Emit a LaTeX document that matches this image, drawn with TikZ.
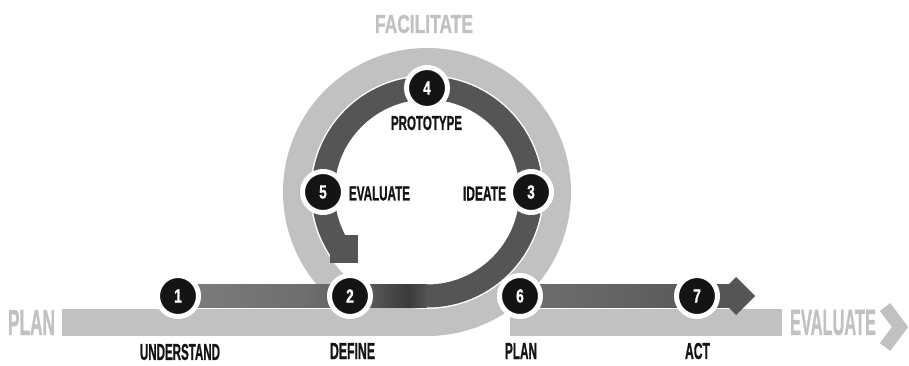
\documentclass[tikz,border=0pt]{standalone}
\usepackage{fontspec}
\setmainfont{Liberation Sans}[BoldFeatures={FakeBold=1.2}]
\usepackage{graphicx}
\definecolor{lightg}{HTML}{C1C1C1}
\definecolor{darkg}{HTML}{555555}
\definecolor{ink}{HTML}{141414}
\definecolor{sa}{HTML}{7D7D7D}
\definecolor{sb}{HTML}{6F6F6F}
\definecolor{sc}{HTML}{5C5C5C}
\definecolor{sd}{HTML}{444444}
\definecolor{se}{HTML}{3B3B3B}
\definecolor{sf}{HTML}{4A4A4A}
\pgfdeclarehorizontalshading{leftband}{100bp}{color(0bp)=(sa); color(25bp)=(sa); color(49.5bp)=(sb); color(62.6bp)=(sc); color(68.6bp)=(sd); color(71.2bp)=(se); color(73.6bp)=(sf); color(75bp)=(darkg); color(100bp)=(darkg)}
\newcommand\lbl[3]{\resizebox{#1pt}{#2pt}{\bfseries #3}}
\newcommand\dig[1]{\scalebox{0.72}[1]{\fontsize{19pt}{19pt}\selectfont\bfseries #1}}
\tikzset{
  num/.style={circle, fill=ink, draw=white, line width=5pt, minimum size=41pt, inner sep=0pt, text=white},
  txt/.style={inner sep=0pt, anchor=center, text=ink},
  gtxt/.style={inner sep=0pt, anchor=center, text=lightg},
  lightband/.style={draw=lightg, line width=27pt},
  darkband/.style={draw=darkg, line width=23pt},
}
\begin{document}
\begin{tikzpicture}[x=1pt, y=-1pt]
\useasboundingbox (0,0) rectangle (909,365);
\fill[white] (0,0) rectangle (909,365);
\coordinate (C) at (427,192);
\coordinate (p1) at (178,296);
\coordinate (p2) at (350,296);
\coordinate (p6) at (520,296);
\coordinate (p7) at (697,296);
\coordinate (p3) at (531,192);
\coordinate (p5) at (323,192);
\coordinate (p4) at (427,88);
\coordinate (bot) at (427,296);
\coordinate (tip) at (736,296);
% light grey track
\fill[lightg] (62,309) rectangle (427,336);
\fill[lightg] (510,309) rectangle (782,336);
\draw[lightband] (C) circle[radius=130.5];
\draw[draw=lightg, line width=13pt, miter limit=10] (885,307) -- (900,327) -- (885,347);
% dark track
\shade[shading=leftband] (p1 |- 0,284.5) rectangle (bot |- 0,307.5);
\draw[darkband] (bot) arc[start angle=90, end angle=-214.5, radius=104];
\fill[darkg] (330,235) rectangle (358,263);
\shade[left color=sb, right color=darkg] (p6 |- 0,284.5) rectangle (tip |- 0,307.5);
\fill[darkg] (tip) ++(-19,0) -- ++(19,-19) -- ++(19,19) -- ++(-19,19) -- cycle;
% numbered circles
\node[num] (n1) at (p1) {\dig{1}};
\node[num] (n2) at (p2) {\dig{2}};
\node[num] (n6) at (p6) {\dig{6}};
\node[num] (n7) at (p7) {\dig{7}};
\node[num] (n3) at (p3) {\dig{3}};
\node[num] (n5) at (p5) {\dig{5}};
\node[num] (n4) at (p4) {\dig{4}};
% labels
\node[gtxt] (facil) at (424,24) {\lbl{98}{18}{FACILITATE}};
\node[gtxt] (plang) at (31.5,322.5) {\lbl{47}{25}{PLAN}};
\node[gtxt] (evalg) at (833,322.5) {\lbl{86}{25}{EVALUATE}};
\node[txt] (proto) at (426.5,123) {\lbl{71}{14}{PROTOTYPE}};
\node[txt] (evalb) at (379.5,193.5) {\lbl{61}{14}{EVALUATE}};
\node[txt] (ideate) at (484.5,193.5) {\lbl{43}{14}{IDEATE}};
\node[txt] (under) at (180,352) {\lbl{80}{16}{UNDERSTAND}};
\node[txt] (define) at (352.5,351) {\lbl{45}{16}{DEFINE}};
\node[txt] (planb) at (521,351) {\lbl{32}{16}{PLAN}};
\node[txt] (act) at (697.5,351) {\lbl{25}{16}{ACT}};
\end{tikzpicture}
\end{document}
